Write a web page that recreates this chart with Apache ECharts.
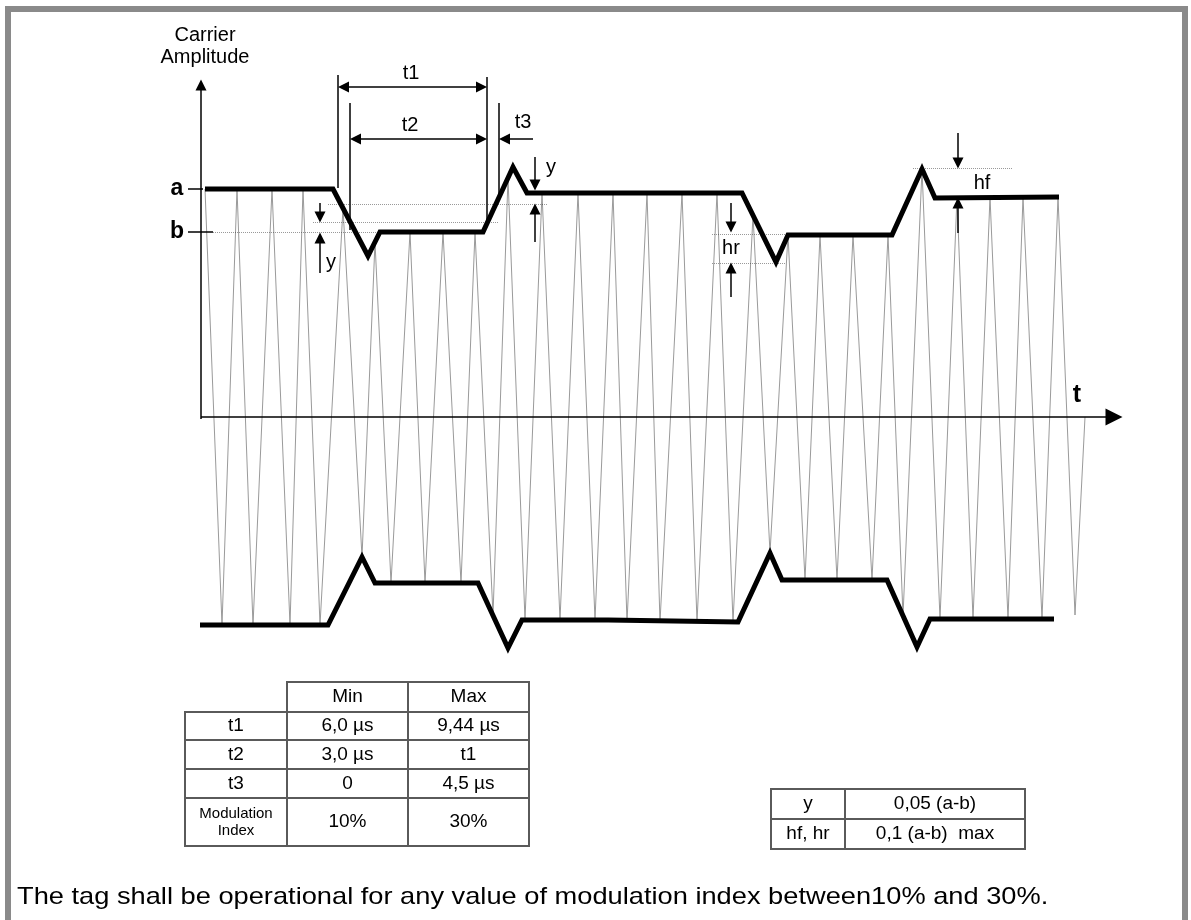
<!DOCTYPE html>
<html><head><meta charset="utf-8">
<script src="https://cdn.jsdelivr.net/npm/echarts@6/dist/echarts.min.js"></script>
<style>html,body{margin:0;padding:0;background:#fff}#c{width:1191px;height:920px}</style>
</head><body><div id="c"></div>
<script>
// ---- data (time units / amplitude units) ----
const envelopeUpper = [[0.4,114],[13.2,114],[16.7,80.5],[17.9,92.5],[28.2,92.5],[31.2,125],[32.6,112],[54.1,112],[57.5,77.5],[58.7,91],[69.1,91],[72.1,124],[73.4,109.5],[85.8,110]];
const envelopeLower = [[-0.1,-104],[12.7,-104],[16.1,-70],[17.4,-83],[27.7,-83],[30.7,-115.5],[32.1,-101.5],[40.7,-101.5],[53.7,-102.5],[56.9,-68],[58.1,-81.5],[68.6,-81.5],[71.6,-115],[72.9,-101],[85.3,-101]];
const carrierTops = [[0.4,114],[3.6,114],[7.1,114],[10.2,114],[14.2,104.5],[17.4,87.5],[20.9,92.5],[24.2,92.5],[27.4,92.5],[30.7,119.5],[34.1,112],[37.7,112],[41.2,112],[44.6,112],[48.1,112],[51.6,112],[55.2,101],[58.7,91],[61.9,91],[65.2,91],[68.7,91],[72.1,124],[75.6,110],[78.9,110],[82.2,110],[85.7,110]];
const carrierBottoms = [[2.1,-104],[5.2,-104],[8.9,-104],[11.9,-104],[16.1,-70],[19.0,-83],[22.4,-83],[26.0,-83],[29.2,-99],[32.4,-101.5],[35.9,-101.5],[39.4,-101.5],[42.6,-102.5],[45.9,-102.5],[49.6,-102.5],[53.2,-102.5],[56.9,-68],[60.4,-81.5],[63.6,-81.5],[67.1,-81.5],[70.2,-99.5],[73.9,-101],[77.2,-101],[80.7,-101],[84.1,-101],[87.4,-99]];
const carrierEnd = [88.4, 0];
const axisYEnd = [0, 166];
const axisXEnd = [91.3, 0];
const extensionLines = [[[13.7,171],[13.7,114.5]],[[28.6,170],[28.6,96]],[[14.9,157],[14.9,93.5]],[[29.8,157],[29.8,111]]];
const doubleArrows = [[[14.25,165],[28.05,165]],[[15.45,139],[28.05,139]]];
const singleArrows = [[[33.2,139],[30.35,139]],[[33.4,130],[33.4,116]],[[33.4,87.5],[33.4,104]],[[11.9,107],[11.9,100]],[[11.9,72],[11.9,89.5]],[[53,107],[53,95]],[[53,60],[53,74.5]],[[75.7,142],[75.7,127]],[[75.7,92],[75.7,107]]];
const dottedLines = [[[1.2,92.5],[17.9,92.5]],[[11.2,97.5],[29.7,97.5]],[[12.7,106.5],[34.7,106.5]],[[51.1,91.5],[58.4,91.5]],[[51.1,77],[58.4,77]],[[71.2,124.5],[81.1,124.5]]];
const levelTicks = [[[-1.3,114],[0.2,114]],[[-1.3,92.5],[1.2,92.5]]];
const annotationLabels = [['Carrier',0.4,191],['Amplitude',0.4,180],['t1',21,172],['t2',20.9,146],['t3',32.2,147.5],['y',35,125],['y',13,77.5],['hr',53,84.5],['hf',78.1,117]];
const boldLabels = [['a',-2.4,114],['b',-2.4,92.5],['t',87.6,11]];
const timingHead = ['', 'Min', 'Max'];
const timingRows = [['t1','6,0 µs','9,44 µs'],['t2','3,0 µs','t1'],['t3','0','4,5 µs'],['Modulation\nIndex','10%','30%']];
const limitRows = [['y','0,05 (a-b)'],['hf, hr','0,1 (a-b)  max']];
const footnote = 'The tag shall be operational for any value of modulation index between10% and 30%.';

// ---- build ----
const FONT = '"Liberation Sans", Arial, sans-serif';
const carrier = [];
for (let i = 0; i < carrierTops.length; i++) {
  carrier.push(carrierTops[i]);
  if (carrierBottoms[i]) carrier.push(carrierBottoms[i]);
}
carrier.push(carrierEnd);

function linesSeries(list, opts) {
  return Object.assign({
    type: 'lines', coordinateSystem: 'cartesian2d', polyline: false, silent: true,
    data: list.map(c => ({coords: c})),
    lineStyle: {color: '#000', width: 1.5, opacity: 1}
  }, opts);
}

const graphics = [];
graphics.push({type:'rect', shape:{x:8,y:9,width:1177,height:960}, style:{fill:'none', stroke:'#8a8a8a', lineWidth:6}, silent:true});
function cell(x, y, w, h, text, fs) {
  graphics.push({type:'rect', shape:{x, y, width:w, height:h}, style:{fill:'#fff', stroke:'#5a5a5a', lineWidth:2}, z:10});
  graphics.push({type:'text', x: x + w/2, y: y + h/2, z:11, style:{text, fill:'#000', font: fs + 'px ' + FONT, align:'center', verticalAlign:'middle', lineHeight: fs + 2}});
}
const t1x = [185, 287, 408, 529], t1y = [682, 712, 740, 769, 798, 846];
for (let c = 1; c < 3; c++) cell(t1x[c], t1y[0], t1x[c+1]-t1x[c], t1y[1]-t1y[0], timingHead[c], 19);
timingRows.forEach((r, i) => r.forEach((v, c) => cell(t1x[c], t1y[i+1], t1x[c+1]-t1x[c], t1y[i+2]-t1y[i+1], v, (i === 3 && c === 0) ? 15 : 19)));
const t2x = [771, 845, 1025], t2y = [789, 819, 849];
limitRows.forEach((r, i) => r.forEach((v, c) => cell(t2x[c], t2y[i], t2x[c+1]-t2x[c], t2y[i+1]-t2y[i], v, 19)));
graphics.push({type:'text', x:17, y:897, scaleX:1.135, style:{text: footnote, fill:'#000', font:'24px ' + FONT, verticalAlign:'middle'}});

const chart = echarts.init(document.getElementById('c'), null, {renderer:'canvas'});
chart.setOption({
  animation: false,
  backgroundColor: '#fff',
  grid: {left: 1, right: 0, top: 17, bottom: 163},
  xAxis: {type:'value', min:-20, max:99, show:false},
  yAxis: {type:'value', min:-170, max:200, show:false},
  graphic: graphics,
  series: [
    {type:'line', data: carrier, showSymbol:false, clip:false, silent:true, z:1, lineStyle:{color:'#9a9a9a', width:1}},
    {type:'line', data: envelopeUpper, showSymbol:false, clip:false, silent:true, z:3, lineStyle:{color:'#000', width:5, join:'miter'}},
    {type:'line', data: envelopeLower, showSymbol:false, clip:false, silent:true, z:3, lineStyle:{color:'#000', width:5, join:'miter'}},
    linesSeries([[[0,-1],axisYEnd]], {symbol:['none','triangle'], symbolSize:[1,11], z:2}),
    linesSeries([[[0,0],axisXEnd]], {symbol:['none','triangle'], symbolSize:[1,17], z:2}),
    linesSeries(extensionLines, {symbol:'none', z:2}),
    linesSeries(levelTicks, {symbol:'none', z:2}),
    linesSeries(doubleArrows, {symbol:['triangle','triangle'], symbolSize:[11,11], z:2}),
    linesSeries(singleArrows, {symbol:['none','triangle'], symbolSize:[1,11], z:2}),
    linesSeries(dottedLines, {symbol:'none', z:2, lineStyle:{color:'#333', width:1, type:'dotted'}}),
    {type:'scatter', silent:true, clip:false, symbolSize:0, itemStyle:{color:'#000'}, z:5,
      data: annotationLabels.map(d => ({name:d[0], value:[d[1], d[2]]})),
      label:{show:true, position:'inside', formatter:'{b}', color:'#000', textBorderWidth:0, opacity:1, fontSize:20, fontFamily:FONT}},
    {type:'scatter', silent:true, clip:false, symbolSize:0, itemStyle:{color:'#000'}, z:5,
      data: boldLabels.map(d => ({name:d[0], value:[d[1], d[2]], label:{fontSize: d[0]==='t' ? 25 : 23}})),
      label:{show:true, position:'inside', formatter:'{b}', color:'#000', textBorderWidth:0, opacity:1, fontWeight:'bold', fontFamily:FONT}}
  ]
});
</script></body></html>
